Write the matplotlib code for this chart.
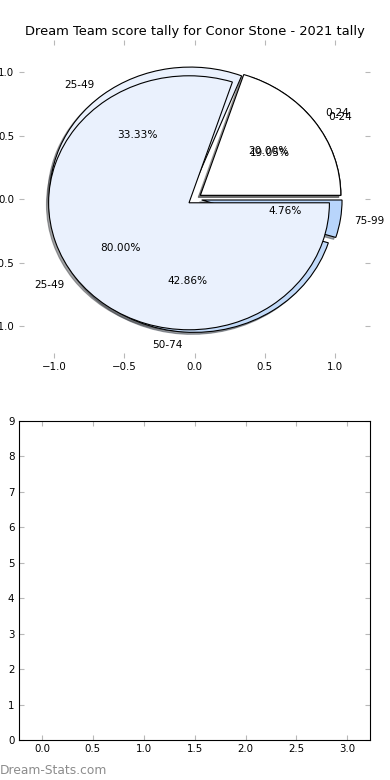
import matplotlib
matplotlib.use("Agg")
import matplotlib.pyplot as plt

# Data
title = "Dream Team score tally for Conor Stone - 2021 tally"
labels_a = ["0-24", "25-49"]
values_a = [1, 4]
labels_b = ["0-24", "25-49", "50-74", "75-99"]
values_b = [4, 7, 9, 1]
colors_a = ["#ffffff", "#eaf1fd"]
colors_b = ["#ffffff", "#eaf1fd", "#c2daf9", "#b8d5fb"]
bar_xlim = (-0.223, 3.223)
bar_ylim = (0, 9)

DPI = 100
plt.rcParams.update({
    "font.family": ["DejaVu Sans"],
    "font.size": 7.4,
    "xtick.direction": "in",
    "ytick.direction": "in",
    "xtick.color": "#b8b8b8",
    "ytick.color": "#b8b8b8",
    "xtick.labelcolor": "black",
    "ytick.labelcolor": "black",
    "xtick.major.size": 3.5,
    "ytick.major.size": 3.5,
    "xtick.major.pad": 3.2,
    "ytick.major.pad": 3.5,
    "xtick.top": True,
    "ytick.right": True,
    "axes.linewidth": 0.8,
})

fig = plt.figure(figsize=(3.9, 7.8), dpi=DPI)
W, H = 390.0, 780.0
ax1 = fig.add_axes([19.2 / W, (H - 357.8) / H, 351.0 / W, 317.5 / H])
ax2 = fig.add_axes([19.3 / W, 40.0 / H, 350.7 / W, 319.0 / H])

shadow = {"ox": -0.011, "oy": -0.011}
wp = {"linewidth": 0.8, "edgecolor": "black"}

ax1.pie(values_b, labels=labels_b, colors=colors_b, explode=[0.05] * len(values_b),
        autopct="%1.2f%%", shadow=shadow, wedgeprops=wp, frame=True,
        textprops={"fontsize": 7.6})
ax1.pie(values_a, labels=labels_a, colors=colors_a, explode=[0.05] * len(values_a),
        autopct="%1.2f%%", shadow=shadow, wedgeprops=wp, frame=True,
        textprops={"fontsize": 7.6})
ax1.set_aspect("auto")
ax1.set_xlim(-1.25, 1.25)
ax1.set_ylim(-1.25, 1.25)
ax1.set_xticks([-1.0, -0.5, 0.0, 0.5, 1.0])
ax1.set_yticks([-1.0, -0.5, 0.0, 0.5, 1.0])
ax1.set_frame_on(False)
ax1.set_title(title, fontsize=9.4, pad=3.5)

ax2.set_xlim(*bar_xlim)
ax2.set_ylim(*bar_ylim)
ax2.set_xticks([0.0, 0.5, 1.0, 1.5, 2.0, 2.5, 3.0])
ax2.set_yticks(range(0, 10))

fig.text(0.0, 9.0 / H, "Dream-Stats.com", color="#8c8c8c", fontsize=8.8,
         ha="left", va="center", fontweight="medium")

fig.savefig("out.png", dpi=DPI, facecolor="white")
